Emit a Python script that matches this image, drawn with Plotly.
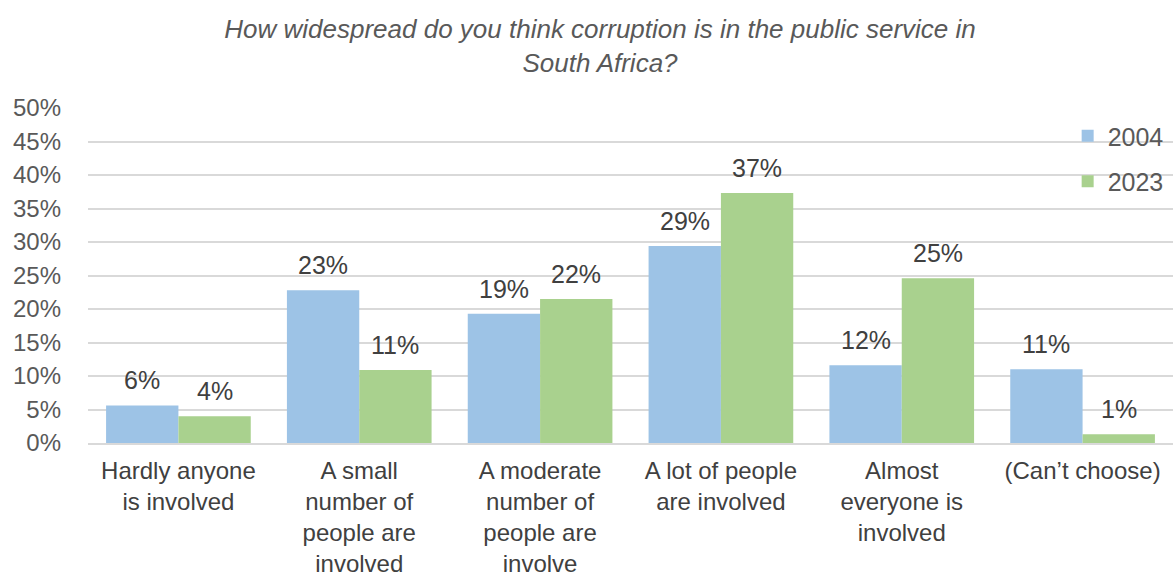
import plotly.graph_objects as go

categories = [
    "Hardly anyone<br>is involved",
    "A small<br>number of<br>people are<br>involved",
    "A moderate<br>number of<br>people are<br>involve",
    "A lot of people<br>are involved",
    "Almost<br>everyone is<br>involved",
    "(Can’t choose)",
]
values_2004 = [5.6, 22.8, 19.3, 29.4, 11.6, 11.0]
values_2023 = [4.0, 10.9, 21.5, 37.3, 24.6, 1.3]
series = [("2004", values_2004, "#9DC3E6"), ("2023", values_2023, "#A9D18E")]
y_ticks = list(range(0, 55, 5))

FONT = "Liberation Sans, Arial, sans-serif"
W, H = 1173, 577
margin = dict(l=88, r=0, t=108, b=134)
plot_w = W - margin["l"] - margin["r"]
bargap = 0.2
bar_w = plot_w / len(categories) * (1 - bargap) / 2

fig = go.Figure()
annotations = []
for i, (name, vals, color) in enumerate(series):
    fig.add_trace(go.Bar(
        name=name, x=categories, y=vals,
        marker=dict(color=color, line=dict(width=0)),
        legendgroup=name,
    ))
    shift = (i - 0.5) * bar_w
    for c, v in zip(categories, vals):
        annotations.append(dict(
            x=c, y=v, xref="x", yref="y", text=f"{v:.0f}%",
            showarrow=False, xshift=shift, yshift=9, yanchor="bottom",
            font=dict(family=FONT, size=25, color="#404040"),
        ))

fig.update_layout(
    width=W, height=H,
    margin=margin,
    paper_bgcolor="white", plot_bgcolor="white",
    barmode="group", bargap=bargap, bargroupgap=0,
    font=dict(family=FONT, color="#404040"),
    title=dict(
        text="How widespread do you think corruption is in the public service in<br>South Africa?",
        x=600 / W, xanchor="center", xref="container",
        y=1 - 38 / H, yanchor="middle", yref="container",
        font=dict(family=FONT, size=26, color="#595959", style="italic"),
    ),
    legend=dict(
        x=0.996, xanchor="right", y=0.985, yanchor="top",
        font=dict(size=25, color="#595959"),
        bgcolor="rgba(0,0,0,0)",
        tracegroupgap=10, itemwidth=30,
    ),
    annotations=annotations,
)
fig.update_xaxes(
    type="category", automargin=False,
    tickfont=dict(size=24, color="#404040"),
    showgrid=False, showline=True, linecolor="#D9D9D9", linewidth=1.5,
    ticks="", ticklabelstandoff=5,
)
fig.update_yaxes(
    range=[0, 50], tickvals=y_ticks, ticktext=[f"{t}%" for t in y_ticks],
    automargin=False,
    tickfont=dict(size=24, color="#595959"),
    showgrid=True, gridcolor="#D9D9D9", gridwidth=1.5,
    zeroline=False, showline=False, ticks="", ticklabelstandoff=26,
)

fig.write_html("out.html")
